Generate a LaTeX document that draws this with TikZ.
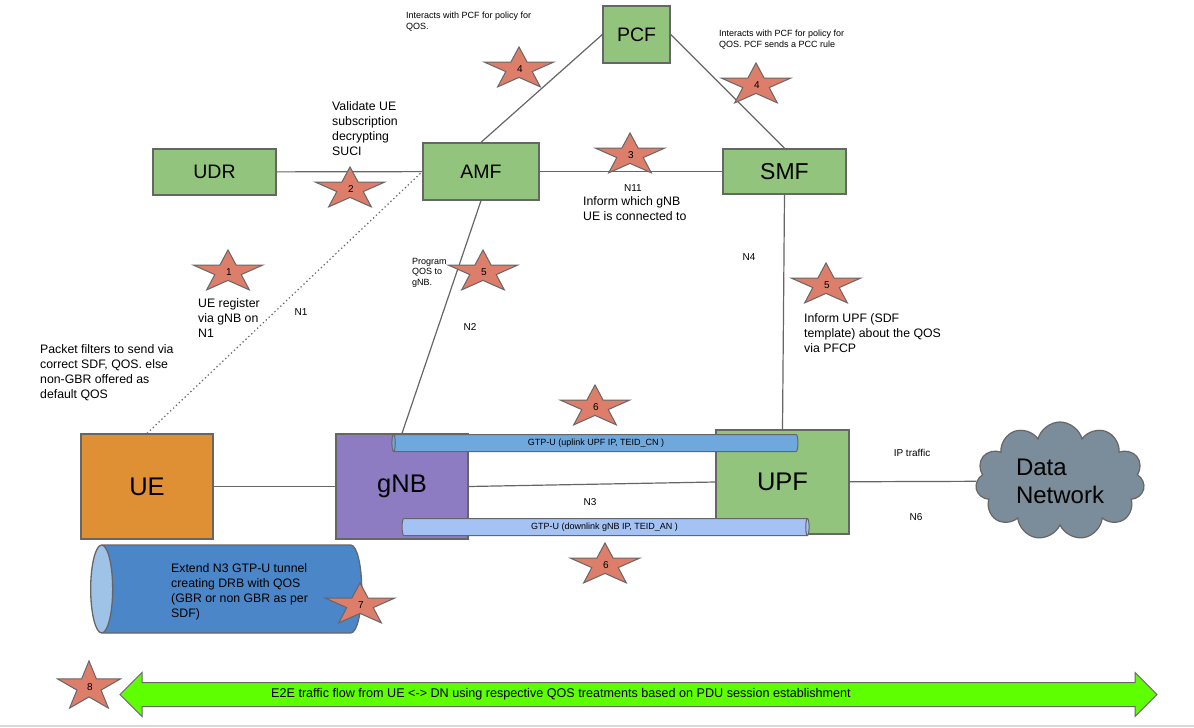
\documentclass[tikz,border=0pt]{standalone}
\usepackage{fontspec}
\setmainfont{Liberation Sans}
\usepackage{tikz}
\usetikzlibrary{shapes}
\definecolor{nfgreen}{HTML}{93C47D}
\definecolor{edgegray}{HTML}{666666}
\definecolor{ueorange}{HTML}{E09034}
\definecolor{gnbpurple}{HTML}{8E7CC3}
\definecolor{starred}{HTML}{DD7E6B}
\definecolor{starrose}{HTML}{E06666}
\definecolor{upblue}{HTML}{6FA8DC}
\definecolor{downblue}{HTML}{A4C2F4}
\definecolor{drbblue}{HTML}{4A86C8}
\definecolor{drbend}{HTML}{9FC2E7}
\definecolor{dngray}{HTML}{7B8D9A}
\definecolor{flowgreen}{HTML}{5EFF00}

\begin{document}
\begin{tikzpicture}[x=1pt, y=-1pt,
  nf/.style={draw=edgegray, line width=1.3pt, fill=nfgreen, inner sep=0pt, font=\fontsize{19.5}{23}\selectfont},
  bignf/.style={nf, minimum width=132pt, minimum height=105pt, font=\fontsize{25.5}{30}\selectfont},
  link/.style={draw=edgegray, line width=1.2pt},
  tunnel/.style={cylinder, draw=edgegray, line width=1pt, cylinder uses custom fill, inner sep=0pt, aspect=0.4, font=\fontsize{9}{11}\selectfont},
  notetext/.style={font=\fontsize{12.3}{15}\selectfont, align=left, anchor=north west, inner sep=0pt},
  memotext/.style={font=\fontsize{9}{10.5}\selectfont, align=left, anchor=north west, inner sep=0pt},
  ifacetext/.style={font=\fontsize{10}{12}\selectfont, inner sep=0pt},
  badge/.pic={
    \draw[draw=edgegray, line width=1pt, fill=starred, pic actions] (-90:36.3 and 22.1)
      \foreach \k in {0,...,4}{ -- ({-54+72*\k}:13.9 and 8.4) -- ({-18+72*\k}:36.3 and 22.1)} -- cycle;
    \node[font=\fontsize{10}{12}\selectfont, inner sep=0pt] (-num) at (1,0) {#1};
  }]
\useasboundingbox (0,0) rectangle (1194,728);
\fill[white] (0,0) rectangle (1194,728);
\draw[draw=black!15, line width=2pt] (0,726) -- (1194,726);

\node[nf, minimum width=67pt, minimum height=57pt] (pcf) at (636.5,34.5) {PCF};
\node[nf, minimum width=123pt, minimum height=46pt] (udr) at (214.5,172) {UDR};
\node[nf, minimum width=116pt, minimum height=57pt] (amf) at (481,171.5) {AMF};
\node[nf, minimum width=123pt, minimum height=45pt, font=\fontsize{23}{27}\selectfont] (smf) at (784.5,171.5) {SMF};
\node[bignf, fill=ueorange] (ue) at (147,486.5) {UE};
\node[bignf, fill=gnbpurple] (gnb) at (402,486.5) {gNB};
\node[bignf, minimum width=133pt, minimum height=104pt] (upf) at (782.5,482) {UPF};
\node[cloud, cloud puffs=11, cloud ignores aspect, draw=edgegray, fill=dngray, line width=1.2pt, minimum width=169pt, minimum height=118pt, align=left, font=\fontsize{24}{28}\selectfont] (dn) at (1060,481) {Data\\Network};

\draw[link] (udr) -- (amf);
\draw[link] (amf) -- (smf);
\draw[link] (amf.north) -- (pcf.west);
\draw[link] (pcf.east) -- (smf.north);
\draw[link] (amf.south) -- (gnb.north);
\draw[link] (smf.south) -- (upf.north);
\draw[link] (ue) -- (gnb);
\draw[link] (gnb.east) -- (upf.west);
\draw[link] (upf) -- (dn);
\draw[edgegray, line width=1.2pt, dash pattern=on 1.3pt off 2.7pt] (ue.north) -- (amf.west);

\node[tunnel, shape border rotate=180, cylinder body fill=upblue, cylinder end fill=upblue, minimum height=406pt, minimum width=17pt] (uplink) at (596,443) {GTP-U (uplink UPF IP, TEID\_CN )};
\node[tunnel, cylinder body fill=downblue, cylinder end fill=downblue, minimum height=407pt, minimum width=17pt] (downlink) at (604.5,527) {GTP-U (downlink gNB IP, TEID\_AN )};
\node[tunnel, shape border rotate=180, aspect=0.25, inner ysep=44pt, line width=1.3pt, cylinder body fill=drbblue, cylinder end fill=drbend, minimum height=271pt, minimum width=88pt] (drb) at (237.5,589) {};
\node[notetext] (drbtext) at (171,563) {Extend N3 GTP-U tunnel\\creating DRB with QOS\\(GBR or non GBR as per\\SDF)};

\node[double arrow, draw=edgegray, fill=flowgreen, line width=1pt, inner sep=0pt, inner ysep=11.5pt, minimum height=1037pt, double arrow head extend=10pt, double arrow tip angle=90] (flow) at (638.5,694.5) {};
\node[font=\fontsize{12.6}{14}\selectfont, inner sep=0pt] (flowtext) at (561,694) {E2E traffic flow from UE <-> DN using respective QOS treatments based on PDU session establishment};

\pic (s1) at (228,272) {badge=1};
\pic (s2) at (350,189) {badge=2};
\pic (s3) at (630,155) {badge=3};
\pic (s4a) at (519,69) {badge=4};
\pic (s4b) at (756,85) {badge=4};
\pic (s5a) at (483,272) {badge=5};
\pic (s5b) at (826,285) {badge=5};
\pic (s6a) at (595,407) {badge=6};
\pic (s6b) at (605,565) {badge=6};
\pic[fill=starrose] (s7) at (360,605) {badge=7};
\pic[fill=starrose, xscale=0.91, yscale=1.18] (s8) at (89,687) {badge=8};

\node[memotext] (pcfnotea) at (406,12) {Interacts with PCF for policy for\\QOS.};
\node[memotext] (pcfnoteb) at (719,30) {Interacts with PCF for policy for\\QOS. PCF sends a PCC rule};
\node[notetext] (suci) at (332,101) {Validate UE\\subscription\\decrypting\\SUCI};
\node[ifacetext] (n11) at (633,188) {N11};
\node[notetext] (gnbinfo) at (583,196) {Inform which gNB\\UE is connected to};
\node[memotext] (progqos) at (412,258) {Program\\QOS to\\gNB.};
\node[ifacetext] (n4) at (749,257) {N4};
\node[notetext] (ureg) at (198,298) {UE register\\via gNB on\\N1};
\node[ifacetext] (n1) at (301,312) {N1};
\node[ifacetext] (n2) at (470,327) {N2};
\node[notetext] (pfcp) at (804,313) {Inform UPF (SDF\\template) about the QOS\\via PFCP};
\node[notetext] (pktf) at (40,344) {Packet filters to send via\\correct SDF, QOS. else\\non-GBR offered as\\default QOS};
\node[ifacetext] (iptr) at (912,453) {IP traffic};
\node[ifacetext] (n3) at (590,502) {N3};
\node[ifacetext] (n6) at (916,517) {N6};
\end{tikzpicture}
\end{document}
